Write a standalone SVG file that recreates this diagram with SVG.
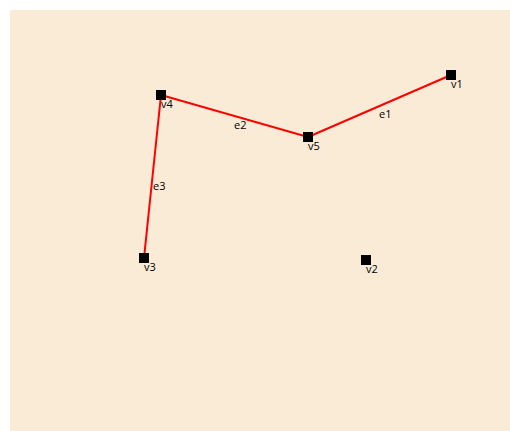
<svg xmlns="http://www.w3.org/2000/svg" width="510" height="431" viewBox="0 0 510 431">
<style>
.edge{stroke:#ff0000;stroke-width:2;fill:none}
.node rect{fill:#000}
text{font-family:"Open Sans","Noto Sans","Liberation Sans",sans-serif;font-size:11px;fill:#000}
</style>
<rect x="10" y="10" width="500" height="421" fill="#faebd7"/>
<g id="connectors">
<line class="edge" x1="451" y1="75" x2="308" y2="137"/>
<line class="edge" x1="161" y1="95" x2="308" y2="137"/>
<line class="edge" x1="144" y1="258" x2="161" y2="95"/>
<text x="379" y="118">e1</text>
<text x="234" y="129">e2</text>
<text x="153" y="190">e3</text>
</g>
<g id="v1" class="node"><rect x="446" y="70" width="10" height="10"/><text x="451" y="88">v1</text></g>
<g id="v2" class="node"><rect x="361" y="255" width="10" height="10"/><text x="366" y="273">v2</text></g>
<g id="v3" class="node"><rect x="139" y="253" width="10" height="10"/><text x="144" y="271">v3</text></g>
<g id="v4" class="node"><rect x="156" y="90" width="10" height="10"/><text x="161" y="108">v4</text></g>
<g id="v5" class="node"><rect x="303" y="132" width="10" height="10"/><text x="308" y="150">v5</text></g>
</svg>
